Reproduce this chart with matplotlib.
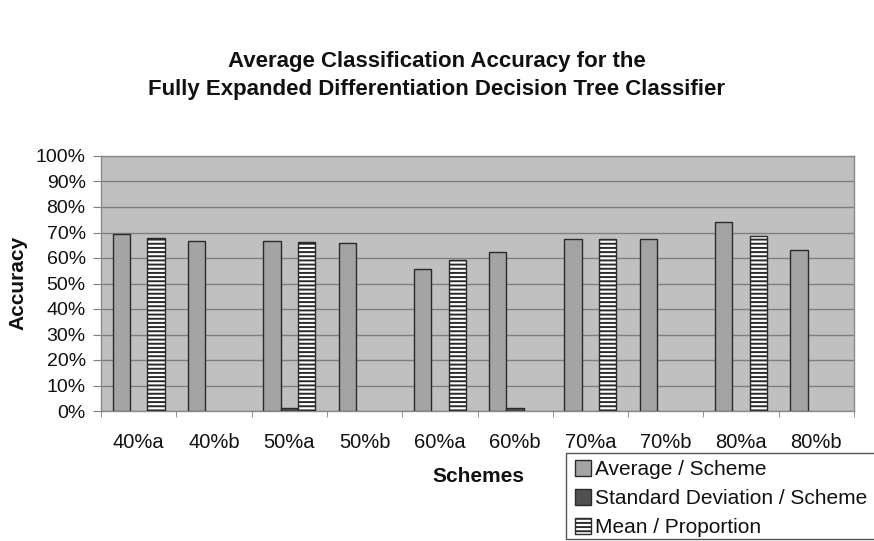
import numpy as np
import matplotlib
matplotlib.use("Agg")
import matplotlib.pyplot as plt
from matplotlib.ticker import FuncFormatter, FixedLocator
from matplotlib.patches import Rectangle

plt.rcParams['font.family'] = ['Liberation Sans', 'DejaVu Sans']
plt.rcParams['hatch.linewidth'] = 1.4
plt.rcParams['hatch.color'] = '#111111'

schemes = ["40%a", "40%b", "50%a", "50%b", "60%a", "60%b", "70%a", "70%b", "80%a", "80%b"]
average_scheme = [0.693, 0.668, 0.668, 0.658, 0.557, 0.624, 0.676, 0.676, 0.742, 0.631]
std_scheme = [np.nan, np.nan, 0.011, np.nan, np.nan, 0.013, np.nan, np.nan, np.nan, np.nan]
mean_proportion = [0.680, np.nan, 0.663, np.nan, 0.591, np.nan, 0.676, np.nan, 0.685, np.nan]
yticks = [0.0, 0.1, 0.2, 0.3, 0.4, 0.5, 0.6, 0.7, 0.8, 0.9, 1.0]

fig = plt.figure(figsize=(8.74, 5.41), dpi=100)
ax = fig.add_axes([101/874, 1 - 411/541, (854-101)/874, (411-156)/541])
ax.set_facecolor('#c0c0c0')

x = np.arange(len(schemes))
w = 0.23
edge = '#2a2a2a'
ax.bar(x - w, average_scheme, w, color='#a4a4a4', edgecolor=edge, linewidth=1.0,
       label='Average / Scheme', zorder=3)
ax.bar(x, std_scheme, w, color='#505050', edgecolor=edge, linewidth=1.0,
       label='Standard Deviation / Scheme', zorder=3)
ax.bar(x + w, mean_proportion, w, color='white', edgecolor=edge, linewidth=1.0,
       hatch='----', label='Mean / Proportion', zorder=3)

ax.set_xlim(-0.5, len(schemes) - 0.5)
ax.set_ylim(0, 1.0)
ax.set_yticks(yticks)
ax.yaxis.set_major_formatter(FuncFormatter(lambda v, p: f"{int(round(v*100))}%"))
ax.grid(axis='y', color='#7f7f7f', linewidth=1.0, zorder=1)
ax.set_axisbelow(True)

ax.set_xticks(x)
ax.set_xticklabels(schemes)
ax.xaxis.set_minor_locator(FixedLocator(np.arange(-0.5, len(schemes), 1.0)))
ax.tick_params(axis='x', which='major', length=0, pad=16, labelsize=14.5, labelcolor='#111111')
ax.tick_params(axis='x', which='minor', length=4, color='#7f7f7f', direction='out')
ax.tick_params(axis='y', length=6, color='#7f7f7f', labelsize=14, pad=5, labelcolor='#111111')

for s in ax.spines.values():
    s.set_color('#8a8a8a')
    s.set_linewidth(1.0)

fig.text(18/874, 1 - 283/541, 'Accuracy', fontsize=15, fontweight='bold',
         rotation=90, ha='center', va='center', color='#111111')
fig.text(478/874, 1 - 477/541, 'Schemes', fontsize=15, fontweight='bold',
         ha='center', va='center', color='#111111')

fig.text(437/874, 1 - 62/541, 'Average Classification Accuracy for the',
         fontsize=16, fontweight='bold', ha='center', va='center', color='#111111')
fig.text(437/874, 1 - 90/541, 'Fully Expanded Differentiation Decision Tree Classifier',
         fontsize=16, fontweight='bold', ha='center', va='center', color='#111111')

# legend frame extends past the right edge, as in the reference
fig.patches.append(Rectangle((566/874, 1 - 539/541), (890-566)/874, (539-453)/541,
                             transform=fig.transFigure, facecolor='white',
                             edgecolor='#555555', linewidth=1.0, zorder=1))
leg = fig.legend(loc='upper left', bbox_to_anchor=(568/874, 1 - 453/541),
                 fontsize=15, frameon=False, handlelength=0.75,
                 handleheight=0.75, handletextpad=0.2, labelspacing=0.48,
                 borderpad=0.35, borderaxespad=0)
for t in leg.get_texts():
    t.set_color('#111111')

fig.savefig('out.png', dpi=100)
